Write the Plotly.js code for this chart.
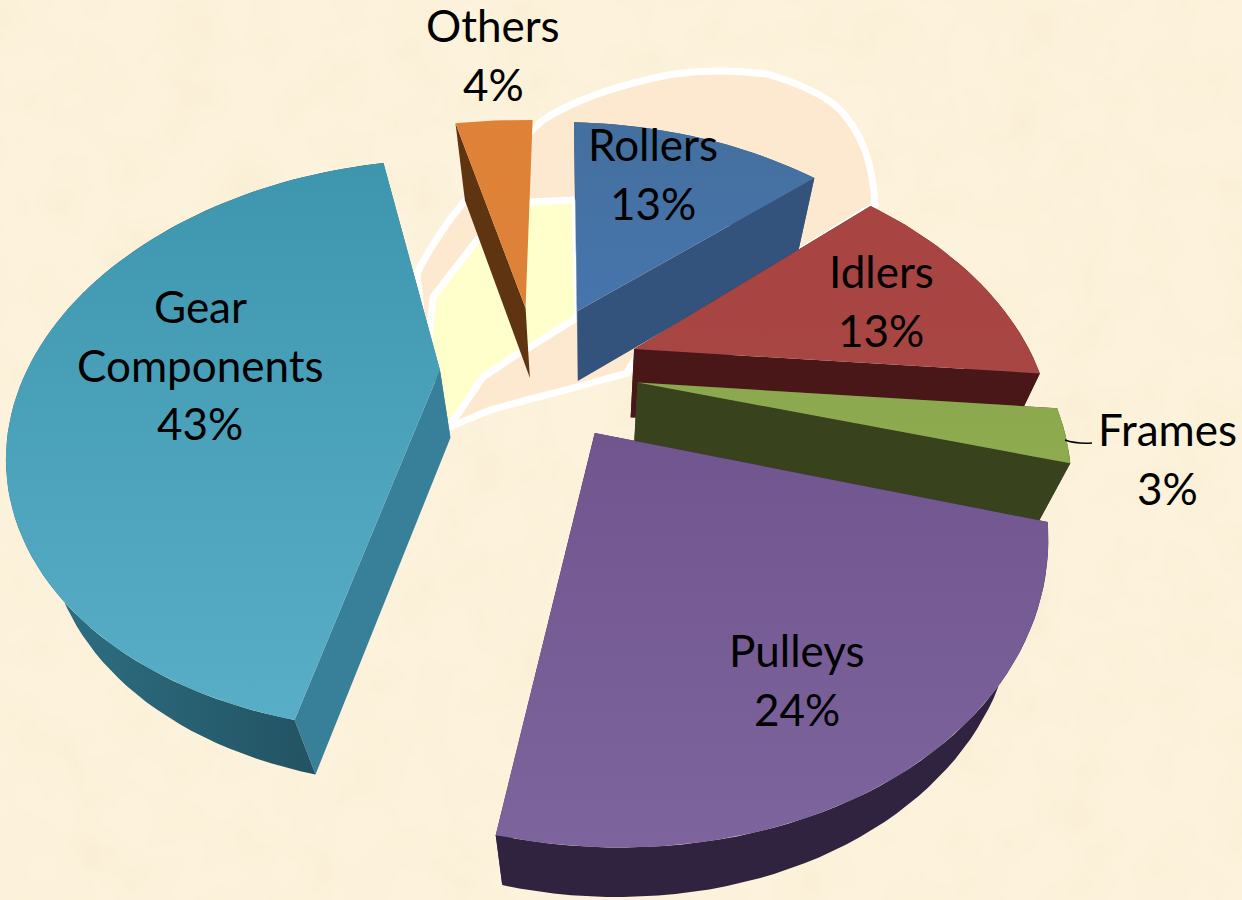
<!DOCTYPE html>
<html>
<head>
<meta charset="utf-8">
<script src="https://cdn.plot.ly/plotly-3.0.1.min.js"></script>
<style>
html,body{margin:0;padding:0;width:1242px;height:900px;overflow:hidden;background:#FDF2DC;}
#tex{position:absolute;left:0;top:0;}
#chart{position:absolute;left:0;top:0;width:1242px;height:900px;}
</style>
</head>
<body>
<svg id="tex" width="1242" height="900"><filter id="m"><feTurbulence type="fractalNoise" baseFrequency="0.018" numOctaves="3" seed="4"/><feColorMatrix values="0 0 0 0 0.93  0 0 0 0 0.84  0 0 0 0 0.62  0.9 0 0 0 -0.33"/></filter><rect width="1242" height="900" filter="url(#m)"/></svg>
<div id="chart"></div>
<script>
// Data, clockwise from 12 o'clock
const categories = ['Rollers', 'Idlers', 'Frames', 'Pulleys', 'Gear Components', 'Others'];
const shares = [13, 13, 3, 24, 43, 4];

// Styles (vertical gradients run bottom to top of the picture)
const topColors = [['#4774AC','#44709F'], ['#A84643','#A84441'], ['#8FAB50','#8CA84E'], ['#7E649D','#70558F'], ['#58AEC7','#3E96AE'], ['#DC8238','#DF8238']];
const radialColors = ['#33537D', '#4A1719', '#38431E', '#2F2340', '#38809A', '#5E3411'];
const arcColors = [['#33537D','#33537D'], ['#4A1719','#4A1719'], ['#38431E','#38431E'], ['#2F2340','#2F2340'], ['#2F7488','#1F4A58'], ['#5E3411','#5E3411']];
const explode = [0.26, 0.26, 0.25, 0.26, 0.235, 0.25];
const hideBackWalls = [false, false, false, false, false, true];
const drawOrder = [5, 0, 1, 2, 3, 4];

// Label placement (centre x, first line y)
const labelLines = [['Rollers'], ['Idlers'], ['Frames'], ['Pulleys'], ['Gear', 'Components'], ['Others']];
const labelAt = [[653,144], [881,271], [1167,429], [797,650], [200,306], [493,25]];
const lineStep = 58.5;
const labelFont = {family: 'Lato, Carlito, sans-serif', size: 44, color: '#000'};

// Camera model: pie plane to picture
const cam = {cx: 536, cy: 370, a: 408, b: 265.5, k: 0.262, skewX: 0.025, skewY: 0.02};
const depth = {vx: 586, vy: 2150, tx: 0.072, ty: 0.038};
const project = (X, Y) => {
  const s = 1 / (1 + cam.k * Y);
  const x = cam.cx + cam.a * X * s, y = cam.cy - cam.b * Y * s;
  return [x - cam.skewX * (y - cam.cy), y + cam.skewY * (x - cam.cx)];
};
const lower = p => [p[0] + (depth.vx - p[0]) * depth.tx, p[1] + (depth.vy - p[1]) * depth.ty];

const total = shares.reduce((a, b) => a + b, 0);
let run = 0;
const slices = shares.map((v, i) => {
  const t0 = run / total * 2 * Math.PI;
  run += v;
  const t1 = run / total * 2 * Math.PI;
  const mid = (t0 + t1) / 2;
  const ox = explode[i] * Math.sin(mid), oy = explode[i] * Math.cos(mid);
  const steps = Math.max(6, Math.round(v * 2));
  const rim = [];
  for (let j = 0; j <= steps; j++) {
    const t = t0 + (t1 - t0) * j / steps;
    rim.push(project(ox + Math.sin(t), oy + Math.cos(t)));
  }
  return {apex: project(ox, oy), rim};
});

const poly = (pts, color, grad, name) => {
  const tr = {
    x: pts.map(p => p[0]).concat([pts[0][0]]),
    y: pts.map(p => p[1]).concat([pts[0][1]]),
    mode: 'lines', fill: 'toself', line: {width: 0, color: 'rgba(0,0,0,0)'},
    hoverinfo: 'skip', showlegend: false, name
  };
  if (grad) tr.fillgradient = {type: grad, colorscale: [[0, color[0]], [1, color[1]]]};
  else tr.fillcolor = color;
  return tr;
};

const traces = [];
drawOrder.forEach(i => {
  const s = slices[i], rim = s.rim, n = rim.length - 1;
  traces.push(poly([s.apex, rim[0], lower(rim[0]), lower(s.apex)], radialColors[i], null, categories[i] + ' wall'));
  if (!hideBackWalls[i]) {
    traces.push(poly([s.apex, rim[n], lower(rim[n]), lower(s.apex)], radialColors[i], null, categories[i] + ' wall'));
    traces.push(poly(rim.concat(rim.map(lower).reverse()), arcColors[i], 'horizontal', categories[i] + ' rim'));
  }
  traces.push(poly([s.apex].concat(rim), topColors[i], 'vertical', categories[i]));
});

const annotations = [];
categories.forEach((c, i) => {
  labelLines[i].concat([shares[i] + '%']).forEach((line, j) => {
    annotations.push({x: labelAt[i][0], y: labelAt[i][1] + j * lineStep, text: line, showarrow: false,
      xanchor: 'center', yanchor: 'middle', font: labelFont});
  });
});

// Halo behind the pie and the Frames leader line
const shapes = [
  {type: 'path', layer: 'below', fillcolor: '#FDE9CF', line: {color: '#FFFFFF', width: 7},
   path: 'M 417 273 Q 436 236 463 203 Q 500 160 543 120 Q 590 90 673 74 Q 720 68 767 74 Q 815 88 837 107 Q 872 140 875 205 L 640 350 L 627 373 L 573 388 L 527 400 L 490 410 L 450 427 L 430 400 Z'},
  {type: 'path', layer: 'below', fillcolor: '#FFFFCC', line: {color: '#FFFFFF', width: 7},
   path: 'M 433 297 L 477 240 Q 500 218 530 202 L 575 200 L 578 317 L 530 347 L 513 357 L 483 377 L 447 430 L 425 380 Z'},
  {type: 'path', layer: 'above', line: {color: '#000', width: 1.5},
   path: 'M 1065 440 Q 1076 444 1092 443'}
];

Plotly.newPlot('chart', traces, {
  width: 1242, height: 900,
  margin: {l: 0, r: 0, t: 0, b: 0},
  paper_bgcolor: 'rgba(0,0,0,0)', plot_bgcolor: 'rgba(0,0,0,0)',
  xaxis: {range: [0, 1242], visible: false, fixedrange: true},
  yaxis: {range: [900, 0], visible: false, fixedrange: true},
  showlegend: false, annotations, shapes, hovermode: false
}, {staticPlot: true, displayModeBar: false});
</script>
</body>
</html>
